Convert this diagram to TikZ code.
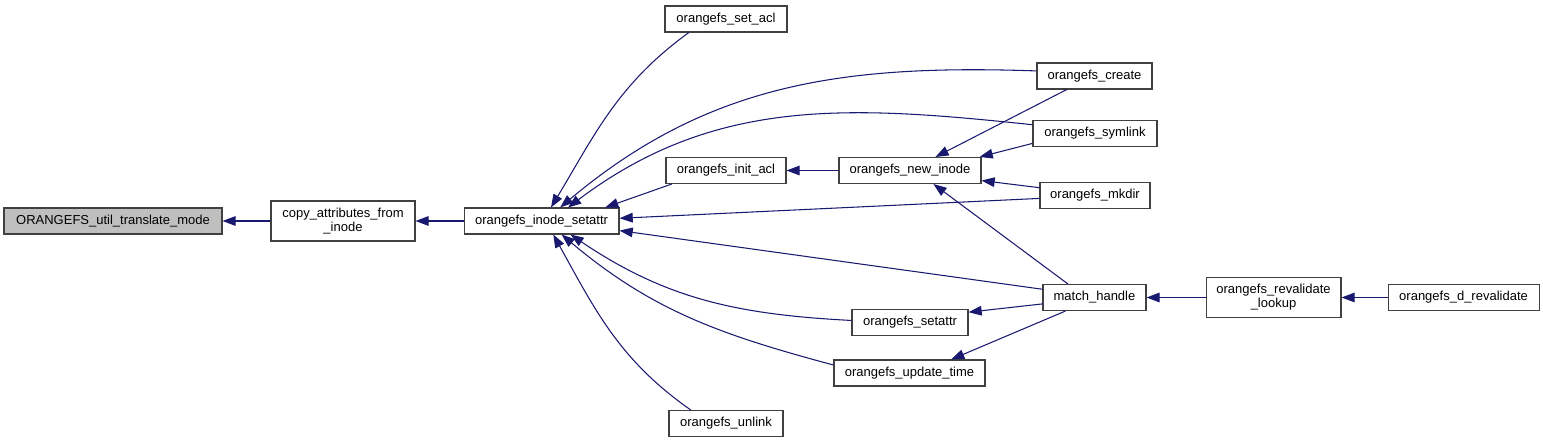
\documentclass[tikz,border=0pt]{standalone}
\usepackage{fontspec}
\setmainfont{Liberation Sans}
\usepackage{tikz}
\usetikzlibrary{arrows.meta, positioning}

\definecolor{edgeblue}{HTML}{191970}
\definecolor{boxgray}{HTML}{BFBFBF}

\begin{document}
\begin{tikzpicture}[
    x=0.02cm, y=-0.02cm,
    node distance=0.96cm,
    func/.style={rectangle, draw=black!75, line width=0.6pt, fill=white, align=center, inner sep=1pt, minimum height=0.52cm, font=\fontsize{7.4}{8}\selectfont},
    twoline/.style={func, minimum height=0.8cm},
    arrow/.style={draw=edgeblue, line width=0.6pt, -{Triangle[length=7.5pt, width=5.5pt]}}
]
\useasboundingbox (0,0) rectangle (1543,443);

% call chain on the left
\node [func, fill=boxgray, minimum width=4.36cm] (util) at (113,221) {ORANGEFS\_util\_translate\_mode};
\node [twoline, minimum width=2.88cm, right=of util] (copy) {copy\_attributes\_from\\\_inode};
\node [func, minimum width=3.1cm, right=of copy] (isa) {orangefs\_inode\_setattr};

% callers of orangefs_inode_setattr
\node [func, minimum width=2.44cm] (seta) at (726,19) {orangefs\_set\_acl};
\node [func, minimum width=2.4cm] (initacl) at (726,170.5) {orangefs\_init\_acl};
\node [func, minimum width=2.84cm] (newinode) at (910,170.5) {orangefs\_new\_inode};
\node [func, minimum width=2.32cm] (osa) at (910,322.5) {orangefs\_setattr};
\node [func, minimum width=3.02cm] (ut) at (909.5,373) {orangefs\_update\_time};
\node [func, minimum width=2.28cm] (unlink) at (726,423.5) {orangefs\_unlink};
\node [func, minimum width=2.3cm] (create) at (1094.5,76) {orangefs\_create};
\node [func, minimum width=2.48cm] (symlink) at (1095,133.5) {orangefs\_symlink};
\node [func, minimum width=2.2cm] (mkdir) at (1095,195.5) {orangefs\_mkdir};
\node [func, minimum width=2.06cm] (mh) at (1094.5,297.5) {match\_handle};

% revalidate chain
\node [twoline, minimum width=2.7cm, right=1.18cm of mh] (rl) {orangefs\_revalidate\\\_lookup};
\node [func, minimum width=3.02cm, right=0.92cm of rl] (dr) {orangefs\_d\_revalidate};

\draw [arrow] (copy) -- (util);
\draw [arrow] (isa) -- (copy);
\draw [arrow] (seta.200) to[out=216, in=59] (isa.55);
\draw [arrow] (create.175) to[out=178, in=40] (isa.36);
\draw [arrow] (symlink.172) to[out=174, in=37] (isa.27);
\draw [arrow] (initacl.194) -- (isa.12);
\draw [arrow] (mkdir.183) -- (isa.2);
\draw [arrow] (mh.171) -- (isa.-7);
\draw [arrow] (osa.178) to[out=177, in=-34] (isa.-25);
\draw [arrow] (ut.174) to[out=165, in=-40] (isa.-34);
\draw [arrow] (unlink.159) to[out=145, in=-61] (isa.-49);

\draw [arrow] (newinode) -- (initacl);
\draw [arrow] (create.206) -- (newinode.28);
\draw [arrow] (symlink.189) -- (newinode.11);
\draw [arrow] (mkdir.172) -- (newinode.-8);
\draw [arrow] (mh.153) -- (newinode.-30);
\draw [arrow] (mh.187) -- (osa.10);
\draw [arrow] (mh.205) -- (ut.18);

\draw [arrow] (rl) -- (mh);
\draw [arrow] (dr) -- (rl);

\end{tikzpicture}
\end{document}
